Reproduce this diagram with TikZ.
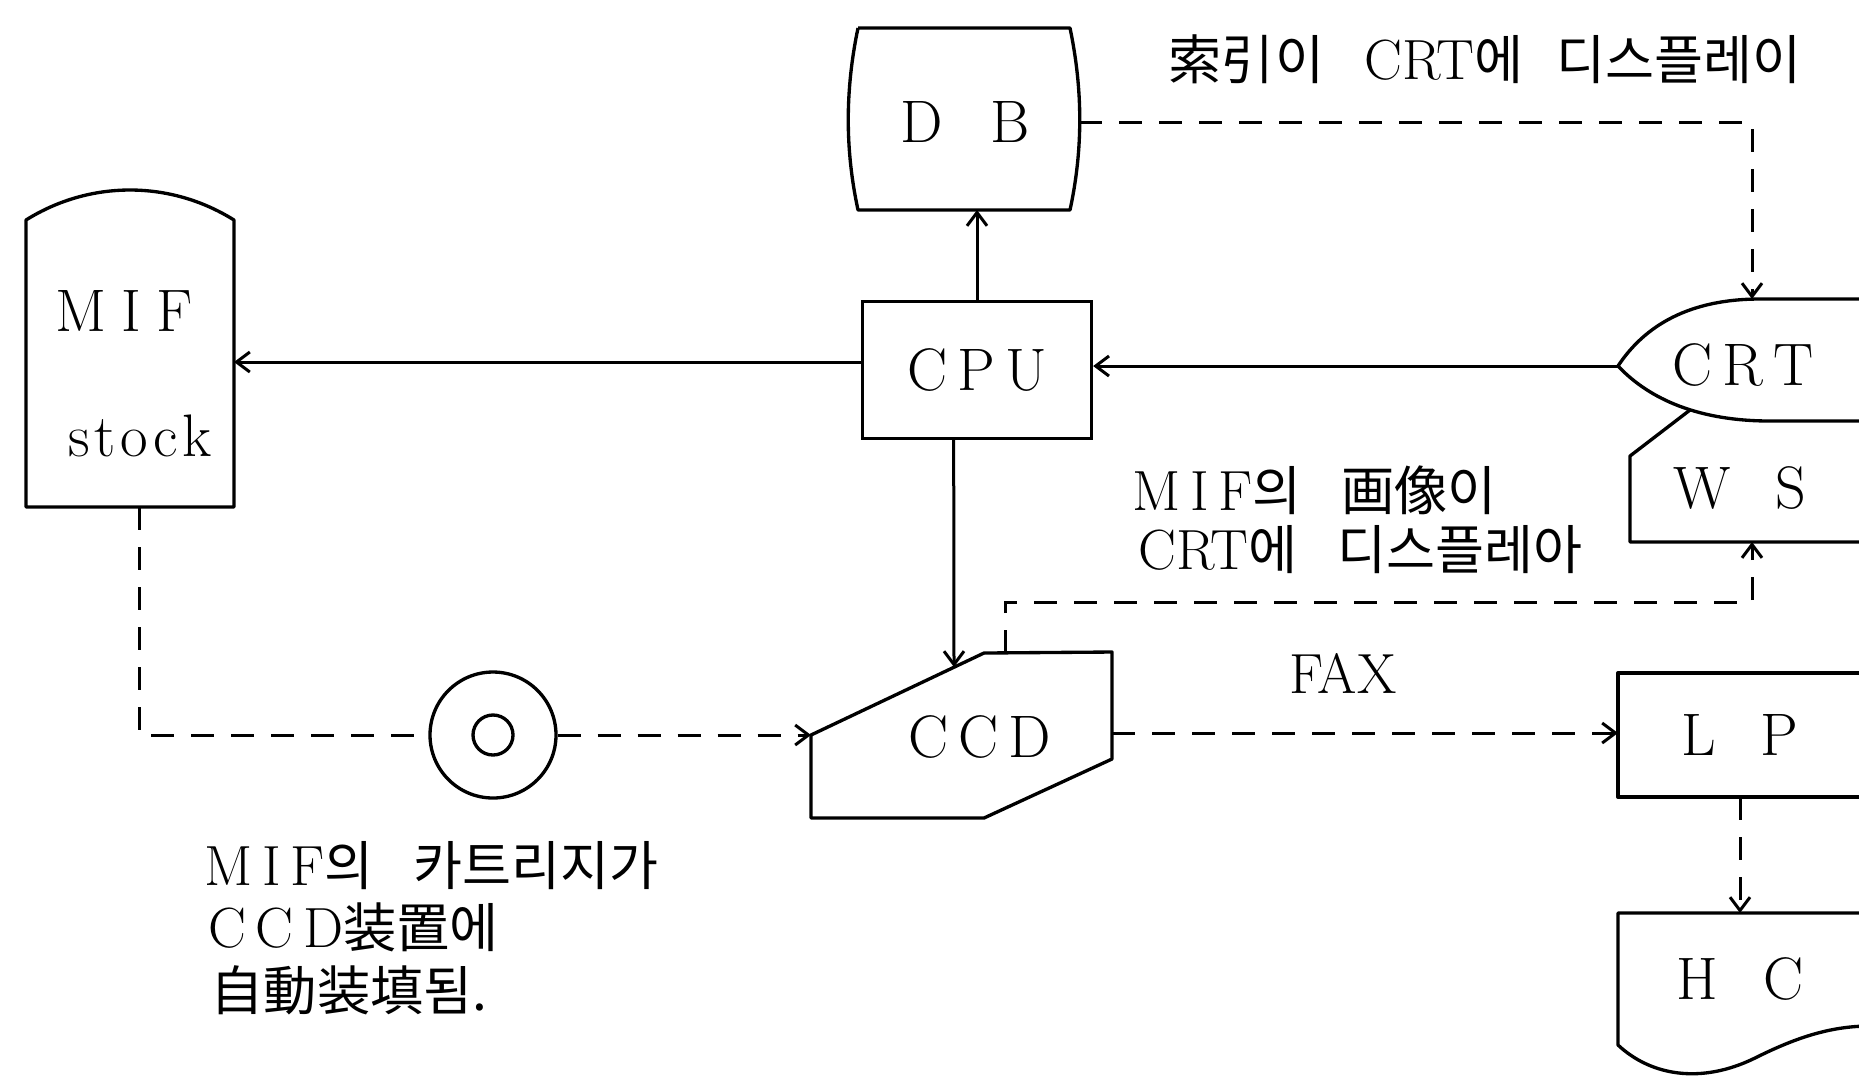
\documentclass[tikz,border=0pt]{standalone}
\usepackage{fontspec}
\newfontfamily\hgfont{Noto Sans CJK KR}[Scale=0.94]
\newcommand{\hg}[1]{{\hgfont #1}}
\usetikzlibrary{arrows.meta}

\begin{document}
\begin{tikzpicture}[x=0.3pt,y=-0.3pt,
  shp/.style={line width=1pt,line join=round},
  box/.style={draw,line width=1pt,minimum width=68.7pt,minimum height=41pt,inner sep=0pt,font=\fontsize{18}{20}\selectfont},
  txt/.style={font=\fontsize{18}{20}\selectfont,inner sep=0pt},
  lbl/.style={font=\fontsize{17}{18}\selectfont,inner sep=0pt},
  ar/.style={line width=0.9pt,-{Straight Barb[length=4pt,width=6pt]}},
  dln/.style={line width=0.9pt,dash pattern=on 7pt off 5pt},
  dar/.style={ar,dash pattern=on 7pt off 5pt}]
\useasboundingbox (0,0) rectangle (1859,1076);
% MIF stock
\draw[shp] (26,220) .. controls (90,180) and (170,180) .. (234,220) -- (234,507) -- (26,507) -- cycle;
\node[txt] (mif) at (124,311) {M\hspace{4.5pt}I\hspace{4.5pt}F};
\node[txt] (stock) at (140,436) {s\kern1.5pt t\kern1.5pt o\kern1.5pt c\kern1.5pt k};
\coordinate (mif-e) at (234,362);
\coordinate (mif-s) at (139,507);
% DB
\draw[shp] (858,28) -- (1070,28) .. controls (1083,90) and (1083,150) .. (1070,210) -- (858,210) .. controls (845,150) and (845,90) .. (858,28);
\node[txt] (db) at (965,122) {D\hspace{0.8em}B};
\coordinate (db-e) at (1079,122);
\coordinate (db-s) at (977,210);
% CPU
\node[box] (cpu) at (977,370) {C\,P\,U};
% CRT and WS
\draw[shp] (1870,299) -- (1760,299) .. controls (1690,299) and (1645,325) .. (1618,366) .. controls (1650,400) and (1700,421) .. (1770,421) -- (1870,421);
\draw[shp] (1690,410) -- (1630,456) -- (1630,542) -- (1870,542);
\node[txt] (crt) at (1743,365) {C\,R\,T};
\node[txt] (ws) at (1740,488) {W\hspace{0.75em}S};
\coordinate (crt-w) at (1618,366);
\coordinate (crt-n) at (1752,299);
\coordinate (ws-s) at (1752,542);
% cartridge
\node[circle,draw,line width=1pt,minimum size=37.8pt,inner sep=0pt] (cart) at (493,735) {};
\draw[shp] (cart.center) circle[radius=20];
% CCD
\draw[shp] (811,735) -- (984,653) -- (1112,652) -- (1112,759) -- (984,818) -- (811,818) -- cycle;
\node[txt] (ccd) at (980,737) {C\,C\,D};
\coordinate (ccd-w) at (811,735);
\coordinate (ccd-n) at (954,667);
\coordinate (ccd-ne) at (1005,653);
\coordinate (ccd-e) at (1112,733);
% LP and HC
\draw[shp] (1870,673) -- (1618,673) -- (1618,797) -- (1870,797);
\node[txt] (lp) at (1740,735) {L\hspace{0.75em}P};
\coordinate (lp-w) at (1618,733);
\coordinate (lp-s) at (1740,797);
\draw[shp] (1870,913) -- (1618,913) -- (1618,1045) .. controls (1650,1075) and (1700,1085) .. (1755,1058) .. controls (1795,1038) and (1830,1026) .. (1870,1026);
\node[txt] (hc) at (1740,979) {H\hspace{0.75em}C};
\coordinate (hc-n) at (1740,913);
% connectors
\draw[ar] (cpu.north) -- (db-s);
\draw[ar] (cpu.west |- mif-e) -- (mif-e);
\draw[ar] (crt-w) -- (cpu.east |- crt-w);
\draw[ar] ([xshift=-7pt]cpu.south) -- (ccd-n);
\draw[dar] (db-e) -| (crt-n);
\draw[dar] (ccd-ne) -- ++(0,-51) -| (ws-s);
\draw[dln] (mif-s) |- (cart.west);
\draw[dar] (cart.east) -- (ccd-w);
\draw[dar] (ccd-e) -- (lp-w);
\draw[dar] (lp-s) -- (hc-n);
% labels
\node[lbl,anchor=base west] (idx) at (1168,79) {\hg{索引이}\hspace{12pt}CRT\hg{에}\hspace{10pt}\hg{디스플레이}};
\node[lbl,anchor=base west] (img1) at (1132,510) {M\,I\,F\hg{의}\hspace{12pt}\hg{画像이}};
\node[lbl,anchor=base west] (img2) at (1138,569) {CRT\hg{에}\hspace{12pt}\hg{디스플레아}};
\node[lbl] (fax) at (1343,673) {FAX};
\node[lbl,anchor=base west] (cart1) at (204,885) {M\,I\,F\hg{의}\hspace{12pt}\hg{카트리지가}};
\node[lbl,anchor=base west] (cart2) at (208,947) {C\,C\,D\hg{装置에}};
\node[lbl,anchor=base west] (cart3) at (210,1010) {\hg{自動装填됨.}};
\end{tikzpicture}
\end{document}
